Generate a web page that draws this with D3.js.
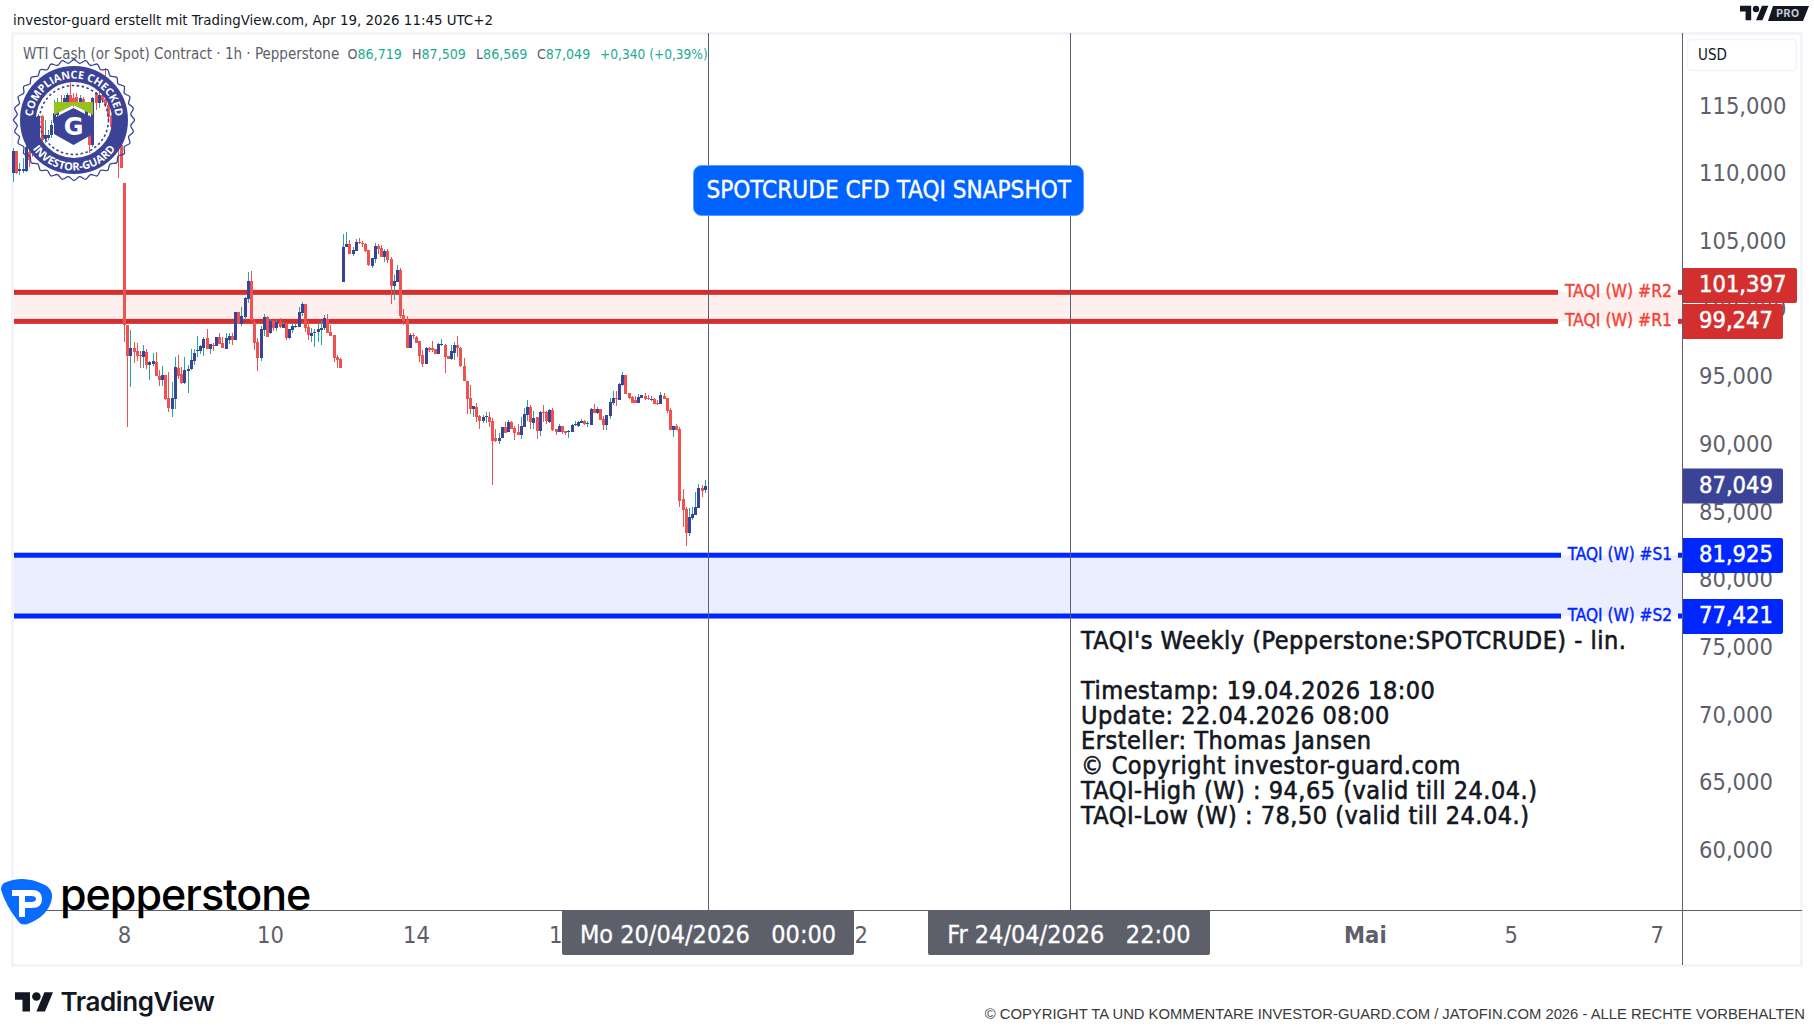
<!DOCTYPE html>
<html><head><meta charset="utf-8">
<script src="https://cdn.jsdelivr.net/npm/d3@7"></script>
<style>
html,body{margin:0;padding:0;background:#fff;overflow:hidden}
svg{display:block}
text{font-family:'DejaVu Sans Condensed','DejaVu Sans',sans-serif;font-stretch:condensed}
</style></head><body>
<svg id="c" width="1814" height="1035"></svg>
<script>
const opens=[110.21,111.86,110.38,110.38,110.40,111.81,112.68,112.68,112.92,114.46,112.78,112.85,113.05,113.91,114.53,115.52,115.39,115.52,116.01,115.76,115.89,115.39,115.69,113.91,114.41,112.31,116.14,115.39,116.01,115.69,115.27,114.46,113.71,112.97,112.31,
109.49,98.97,96.68,97.27,97.05,96.75,96.60,96.97,96.01,96.08,96.23,95.19,94.90,95.27,93.57,92.75,93.49,95.79,95.34,94.68,95.57,95.71,96.31,97.05,97.05,97.27,98.01,97.19,97.49,97.42,98.08,97.64,97.19,97.86,98.16,97.86,99.94,99.05,99.56,100.90,102.23,99.19,97.71,96.53,98.60,99.56,98.38,99.27,98.75,99.19,98.75,99.05,98.01,98.60,98.82,98.82,99.86,100.53,98.82,98.16,98.38,98.45,98.60,98.75,99.42,98.45,98.23,96.60,96.45,
102.16,104.75,104.97,104.23,104.45,105.12,105.05,104.97,104.53,103.34,103.86,104.82,104.68,104.01,104.45,103.86,101.86,102.16,103.05,99.71,99.34,97.27,98.23,98.08,97.79,96.75,96.08,97.27,97.27,97.19,96.82,97.55,97.49,96.68,96.45,96.92,97.49,97.27,95.94,94.82,93.57,92.75,92.90,92.23,91.86,92.16,92.16,91.86,90.60,90.38,90.60,91.42,91.05,91.79,91.34,91.05,90.82,91.42,92.31,92.90,91.71,92.16,91.12,92.53,92.53,91.79,92.68,91.27,91.05,91.49,91.12,91.05,91.05,91.57,91.49,91.74,91.86,91.67,91.57,92.75,92.46,92.75,92.01,91.57,92.23,93.20,93.57,93.42,94.53,95.27,93.94,93.64,93.42,93.20,93.57,93.72,93.57,93.45,93.50,93.20,93.12,93.72,93.57,92.68,91.20,91.50,91.27,86.09,85.35,83.57,84.68,84.90,85.42,86.90,86.719];
const highs=[112.06,111.86,110.95,111.32,112.68,112.19,113.17,114.53,114.60,114.53,114.16,113.42,114.16,115.64,115.76,116.01,116.01,116.14,116.87,116.14,116.14,116.01,115.89,115.52,114.53,115.89,116.26,116.38,116.14,117.99,115.39,114.53,113.79,113.05,112.68,
109.49,98.97,98.60,97.71,97.64,97.05,97.47,97.19,96.31,96.90,96.97,95.64,95.94,95.27,95.49,94.75,96.60,96.75,95.86,96.60,96.01,97.19,97.19,98.16,97.49,98.08,98.68,97.57,97.64,98.08,98.38,98.08,98.38,98.38,98.38,99.94,99.94,100.31,101.05,102.90,102.97,99.42,98.01,98.90,99.79,99.64,99.42,99.34,99.42,99.49,99.19,99.12,98.68,99.12,99.05,100.31,100.68,100.53,99.27,98.75,98.68,99.05,99.27,99.71,99.79,98.97,98.23,96.75,96.53,
105.71,105.86,105.27,104.75,105.34,105.42,105.19,105.05,104.53,103.94,105.05,104.97,104.90,104.60,104.60,104.01,102.68,103.42,103.19,100.16,99.64,98.38,98.38,98.16,97.79,97.12,97.34,97.34,97.79,97.19,97.64,97.94,97.57,96.68,97.49,97.71,98.16,97.34,96.53,94.82,94.53,92.97,93.20,92.31,92.31,92.53,92.53,92.08,91.27,90.97,91.42,91.79,91.94,91.86,91.49,91.64,92.16,92.82,93.42,93.05,92.60,92.16,92.60,93.05,92.60,92.75,92.82,91.27,91.64,91.49,91.12,91.19,91.64,91.86,91.86,92.01,91.94,91.86,92.82,93.12,92.90,92.75,92.23,92.31,93.57,94.09,94.09,94.68,95.50,95.27,93.94,93.72,93.72,93.87,93.79,93.94,93.79,93.72,93.57,93.42,94.01,93.94,93.57,92.83,91.50,91.65,91.42,86.83,85.50,85.42,85.50,86.61,87.20,87.13,87.509];
const lows=[109.59,110.13,110.09,110.21,110.33,110.70,111.44,112.43,112.68,111.94,112.43,112.68,112.80,113.66,114.28,114.90,115.15,115.27,115.39,115.15,115.39,115.15,114.90,113.66,111.69,112.19,114.90,115.02,115.39,115.15,114.16,113.54,112.80,109.84,110.63,
97.71,91.44,94.40,96.13,96.31,95.79,95.79,95.71,94.90,95.94,95.19,94.45,94.45,93.42,92.53,92.16,92.75,94.95,94.60,94.60,93.94,95.64,96.01,96.60,96.82,96.68,97.19,96.82,97.05,97.42,97.57,97.27,97.19,97.57,97.49,97.86,99.05,98.90,99.34,100.60,99.19,97.12,95.57,96.31,98.16,98.08,98.31,98.53,98.53,98.75,98.75,97.86,97.94,98.38,98.75,98.82,99.64,98.45,97.86,97.71,97.34,97.71,97.49,98.60,98.38,98.16,96.23,95.79,95.79,
102.16,104.75,104.23,104.08,104.45,104.97,104.75,104.38,103.34,103.19,103.56,104.23,104.01,103.64,103.56,100.53,100.82,102.16,99.49,98.97,97.27,97.27,97.94,97.64,96.23,95.86,96.08,96.97,96.97,96.82,96.82,97.42,95.41,96.45,96.38,96.38,96.60,95.86,94.82,92.38,92.38,92.16,91.79,91.27,91.71,91.71,91.42,87.12,90.31,90.16,90.60,90.97,91.05,91.27,90.45,90.82,90.53,91.42,91.86,91.27,91.27,90.53,90.75,91.79,91.64,91.71,91.12,90.82,91.05,90.90,90.82,90.60,91.05,91.49,91.42,91.74,91.57,91.42,91.57,92.46,92.38,91.94,91.20,91.20,92.01,93.05,92.97,93.42,94.46,93.87,93.50,93.20,93.20,93.20,93.57,93.42,93.42,93.35,93.12,93.05,93.12,93.50,92.46,91.20,90.68,91.20,85.50,84.02,82.61,83.35,84.53,84.90,85.42,86.24,86.569];
const closes=[111.86,110.21,110.50,110.50,112.19,111.20,111.69,114.41,114.46,112.68,113.05,113.05,113.79,114.65,115.39,115.15,115.76,116.01,115.52,115.39,115.52,115.76,115.15,115.39,112.31,115.76,115.39,116.01,115.64,115.27,114.41,113.67,112.92,112.31,110.63,
98.97,96.68,97.27,96.97,96.68,96.68,97.05,96.01,96.23,96.31,95.19,94.90,95.27,93.49,92.82,93.57,95.86,95.19,94.68,95.64,95.71,96.38,96.90,97.12,97.42,97.94,97.19,97.57,97.42,98.08,97.57,97.27,98.01,98.16,97.86,99.94,99.05,99.64,100.97,102.23,99.34,97.64,96.53,98.68,99.56,98.08,99.27,98.75,99.19,98.82,99.05,98.01,98.68,98.90,98.90,99.94,100.53,98.75,98.23,98.38,98.45,98.68,98.75,99.49,98.38,98.16,96.53,96.38,95.79,
104.75,104.97,104.23,104.53,105.12,105.05,105.02,104.45,103.42,103.94,104.82,104.60,104.01,104.45,103.79,101.86,102.23,103.05,99.64,99.27,97.27,98.23,98.18,97.64,96.68,96.08,97.27,97.12,97.12,96.82,97.57,97.60,96.60,96.45,97.05,97.49,97.27,95.94,94.82,93.49,92.75,92.97,92.16,91.86,92.16,92.21,91.79,90.38,90.38,90.60,91.42,90.97,91.79,91.27,90.97,90.82,91.49,92.38,92.90,91.79,92.08,91.12,92.53,92.48,91.86,92.68,91.19,91.05,91.49,91.05,90.97,91.12,91.57,91.64,91.79,91.86,91.64,91.74,92.75,92.46,92.75,91.94,91.57,92.31,93.27,93.57,93.49,94.60,95.27,93.87,93.57,93.20,93.20,93.64,93.79,93.50,93.52,93.50,93.12,93.12,93.79,93.50,92.61,91.20,91.50,91.20,85.94,85.27,83.57,84.76,84.98,85.50,86.90,86.68,87.049];

const priceTicks=[115,110,105,100,95,90,85,80,75,70,65,60];
const timeBars=[35,81,127,173,265,426,472,518];
const timeLabels=["8","10","14","16","22","Mai","5","7"];
const timeBold=[false,false,false,false,false,true,false,false];
const markerBars=[219,333];
const markerLabels=["Mo 20/04/2026   00:00","Fr 24/04/2026   22:00"];
const levelValues=[101.397,99.247,81.925,77.421];
const levelValueLabels=["101,397","99,247","81,925","77,421"];
const levelNames=["TAQI (W) #R2","TAQI (W) #R1","TAQI (W) #S1","TAQI (W) #S2"];
const lastPrice=87.049, lastLabel="87,049";
const legendTitle="WTI Cash (or Spot) Contract · 1h · Pepperstone";
const legendKeys=["O","H","L","C",""];
const legendVals=["86,719","87,509","86,569","87,049","+0,340 (+0,39%)"];
const infoLines=["TAQI's Weekly (Pepperstone:SPOTCRUDE) - lin.","","Timestamp: 19.04.2026 18:00","Update: 22.04.2026 08:00","Ersteller: Thomas Jansen","© Copyright investor-guard.com","TAQI-High (W) : 94,65 (valid till 24.04.)","TAQI-Low (W) : 78,50 (valid till 24.04.)"];

const RED="#f05252",BLUE="#3a4396",TEAL="#26a69a",GREY="#5d606b",LRED="#d32f2f",LBLUE="#0026ff";
const svg=d3.select("#c");
const plotL=13,plotR=1802,plotT=33,plotB=911,axisX=1683,frameB=965;
const x=d3.scaleLinear().domain([0,218]).range([13.5,705.3]);
const y=d3.scaleLinear().domain([60,115]).range([851.2,108.7]);
const yTick=d3.scaleLinear().domain([60,115]).range([850,105.7]);
const semi=(s,c,w)=>s.attr("stroke",c).attr("stroke-width",w).attr("paint-order","stroke");
const plain=(s,f)=>s.style("font-family",f).style("font-stretch","normal");

// frame
svg.append("rect").attr("x",12.5).attr("y",33.5).attr("width",1789).attr("height",932).attr("fill","#fff").attr("stroke","#f2f4f9").attr("stroke-width",3);

// bands + levels
const bands=[[0,1,"#fdf0ef"],[2,3,"#ebeefc"]];
svg.selectAll(".band").data(bands).join("rect").attr("x",plotL+1).attr("width",axisX-plotL-1)
 .attr("y",d=>y(levelValues[d[0]])).attr("height",d=>y(levelValues[d[1]])-y(levelValues[d[0]])).attr("fill",d=>d[2]);
const lvCol=i=>i<2?LRED:LBLUE;
const lvEnd=i=>i<2?1558:1561;
levelValues.forEach((v,i)=>{
 svg.append("rect").attr("x",plotL+1).attr("width",lvEnd(i)-plotL-1).attr("y",y(v)-2.5).attr("height",5).attr("fill",lvCol(i));
 svg.append("rect").attr("x",1678).attr("width",5).attr("y",y(v)-2.5).attr("height",5).attr("fill",lvCol(i));
 const c=i<2?"#f44336":LBLUE;
 svg.append("text").attr("x",1672).attr("y",y(v)-1).attr("dominant-baseline","central").attr("text-anchor","end")
  .attr("font-size",i<2?17.4:17.1).attr("fill",c).call(semi,c,0.4).text(levelNames[i]);
});

// marker lines
markerBars.forEach(b=>svg.append("line").attr("x1",Math.round(x(b))+0.5).attr("x2",Math.round(x(b))+0.5).attr("y1",plotT).attr("y2",plotB).attr("stroke",GREY).attr("stroke-width",1).attr("shape-rendering","crispEdges"));

// candles
const idx=d3.range(opens.length);
const g=svg.append("g").attr("shape-rendering","crispEdges");
g.selectAll(".w").data(idx).join("line").attr("x1",i=>x(i)).attr("x2",i=>x(i))
 .attr("y1",i=>y(highs[i])).attr("y2",i=>y(lows[i])).attr("stroke-width",1)
 .attr("stroke",i=>closes[i]>=opens[i]?TEAL:RED);
g.selectAll(".b").data(idx).join("rect").attr("x",i=>x(i)-1.5).attr("width",3)
 .attr("y",i=>y(Math.max(opens[i],closes[i]))).attr("height",i=>Math.max(1,Math.abs(y(opens[i])-y(closes[i]))))
 .attr("fill",i=>closes[i]>=opens[i]?BLUE:RED);

// axes
svg.append("line").attr("x1",plotL).attr("x2",plotR).attr("y1",plotB-0.5).attr("y2",plotB-0.5).attr("stroke",GREY).attr("stroke-width",1).attr("shape-rendering","crispEdges");
svg.append("line").attr("x1",axisX-0.5).attr("x2",axisX-0.5).attr("y1",plotT).attr("y2",frameB).attr("stroke",GREY).attr("stroke-width",1).attr("shape-rendering","crispEdges");

svg.selectAll(".pt").data(priceTicks).join("text").attr("x",1699).attr("y",d=>yTick(d)).attr("dominant-baseline","central")
 .attr("font-size",23.5).attr("fill",GREY).text(d=>d+",000");
svg.selectAll(".tt").data(timeBars).join("text").attr("x",d=>x(d)).attr("y",935).attr("dominant-baseline","central").attr("text-anchor","middle")
 .attr("font-size",23.5).attr("fill",GREY).attr("font-weight",(d,i)=>timeBold[i]?700:400).text((d,i)=>timeLabels[i]);

// USD box
svg.append("rect").attr("x",1687.5).attr("y",39.5).attr("width",109).attr("height",31).attr("rx",4).attr("fill","#fff").attr("stroke","#f0f3fa").attr("stroke-width",1.5);
svg.append("text").attr("x",1698).attr("y",55).attr("dominant-baseline","central").attr("font-size",15).attr("fill","#131722").text("USD");

// price labels
const boxes=[[0,268,1797,LRED],[1,304,1783,LRED],[2,538,1783,LBLUE],[3,599,1783,LBLUE]];
boxes.forEach(b=>{
 svg.append("path").attr("d",`M${axisX} ${b[1]}H${b[2]-2}q2 0 2 2V${b[1]+33}q0 2 -2 2H${axisX}Z`).attr("fill",b[3]);
 svg.append("text").attr("x",1699).attr("y",b[1]+16).attr("dominant-baseline","central").attr("font-size",23.5).attr("fill","#fff").call(semi,"#fff",0.5).text(levelValueLabels[b[0]]);
});
const ly=y(lastPrice);
svg.append("path").attr("d",`M${axisX} ${ly-17.5}H1781q2 0 2 2V${ly+15.5}q0 2 -2 2H${axisX}Z`).attr("fill",BLUE);
svg.append("text").attr("x",1699).attr("y",ly-1.5).attr("dominant-baseline","central").attr("font-size",23.5).attr("fill","#fff").call(semi,"#fff",0.5).text(lastLabel);

// time markers
const mBox=[[562,854],[928,1210]];
markerLabels.forEach((t,i)=>{
 svg.append("path").attr("d",`M${mBox[i][0]} 910H${mBox[i][1]}V953q0 2 -2 2H${mBox[i][0]+2}q-2 0 -2 -2Z`).attr("fill",GREY);
 svg.append("text").attr("x",(mBox[i][0]+mBox[i][1])/2).attr("y",934).attr("dominant-baseline","central").attr("text-anchor","middle")
  .attr("font-size",25).attr("fill","#fff").call(semi,"#fff",0.3).style("white-space","pre").text(t);
});

// header + legend
svg.append("text").attr("x",13).attr("y",20).attr("dominant-baseline","central").attr("font-size",14.9).attr("fill","#131722").text("investor-guard erstellt mit TradingView.com, Apr 19, 2026 11:45 UTC+2");
svg.append("text").attr("x",23).attr("y",54).attr("dominant-baseline","central").attr("font-size",15).attr("fill",GREY).text(legendTitle);
const lgX=[347.5,412,476,537,600];
legendKeys.forEach((k,i)=>{
 const t=svg.append("text").attr("x",lgX[i]).attr("y",54).attr("dominant-baseline","central").attr("font-size",i<4?14.1:13.6);
 t.append("tspan").attr("fill",GREY).text(k);
 t.append("tspan").attr("fill","#22ab94").text(legendVals[i]);
});

// title pill
svg.append("rect").attr("x",693.5).attr("y",165.5).attr("width",390).attr("height",50).attr("rx",8).attr("fill","#0062ff").attr("stroke","#5b9bff").attr("stroke-width",1);
svg.append("text").attr("x",888.7).attr("y",189.5).attr("dominant-baseline","central").attr("text-anchor","middle").attr("font-size",24.1).attr("fill","#fff").call(semi,"#fff",0.4).text("SPOTCRUDE CFD TAQI SNAPSHOT");

// info block
const infoY=[640,0,690.7,715.7,740.7,765.7,790.7,815.7];
infoLines.forEach((t,i)=>{ if(t) svg.append("text").attr("x",1081).attr("y",infoY[i]).attr("dominant-baseline","central").attr("font-size",25).attr("letter-spacing",0.5).attr("fill","#131722").call(semi,"#131722",0.6).text(t);});

// compliance seal
const seal=svg.append("g").attr("transform","translate(74,120)");
const scallop=d3.lineRadial().curve(d3.curveCardinalClosed).angle(d=>d.a).radius(d=>d.r);
seal.append("path").attr("d",scallop(d3.range(64).map(i=>({a:i/64*2*Math.PI,r:i%2?57:60.5})))).attr("fill","none").attr("stroke",BLUE).attr("stroke-width",1.3);
seal.append("circle").attr("r",46).attr("fill","none").attr("stroke",BLUE).attr("stroke-width",16);
seal.append("circle").attr("r",34.5).attr("fill","none").attr("stroke",BLUE).attr("stroke-width",1.6).attr("stroke-dasharray","2.5 2.5");
const defs=svg.append("defs");
defs.append("path").attr("id","arcT").attr("d","M-41.5 0A41.5 41.5 0 0 1 41.5 0");
defs.append("path").attr("id","arcB").attr("d","M-50.5 0A50.5 50.5 0 0 0 50.5 0");
const sealTxt=(id,txt,fs)=>seal.append("text").attr("font-size",fs).attr("font-weight",700).attr("fill","#fff").attr("text-anchor","middle").call(plain,"'Open Sans'")
 .append("textPath").attr("href","#"+id).attr("startOffset","50%").text(txt);
sealTxt("arcT","COMPLIANCE CHECKED",10.8);
sealTxt("arcB","INVESTOR-GUARD",11);
seal.append("path").attr("d","M-20 -18L-20 -5L-0.5 -15L19 -5L19 -18Z").attr("fill","#97c11f");
seal.append("path").attr("d","M-20 -2L-0.5 -12L19 -2V14L-0.5 25L-20 14Z").attr("fill",BLUE);
seal.append("text").attr("x",-0.5).attr("y",7).attr("text-anchor","middle").attr("dominant-baseline","central").attr("font-size",24).attr("font-weight",700).attr("fill","#fff").call(plain,"'DejaVu Sans'").text("G");

// pepperstone
svg.append("path").attr("d","M4 883Q24 874 45 885Q53 889 52 898Q49 915 30 923Q22 927 18 921Q6 906 1 890Q1 885 4 883Z").attr("fill","#0a6cff");
svg.append("path").attr("d","M12 890H32Q42 890 42 899Q42 908 32 908H25V917H19V896H12Z M25 896V902H31Q36 902 36 899Q36 896 31 896Z").attr("fill","#fff").attr("fill-rule","evenodd");
svg.append("text").attr("x",60).attr("y",910).attr("font-size",43).attr("font-weight",500).attr("letter-spacing",-1).attr("fill","#000").call(plain,"Inter").text("pepperstone");

// TradingView logo + pro badge
const tvMark="M14 22H7V11H0V4h14v18zM28 22h-8l7.5-18h8L28 22z";
const tv=svg.append("g").attr("transform","translate(15,988) scale(1.07)").attr("fill","#131722");
tv.append("path").attr("d",tvMark); tv.append("circle").attr("cx",20).attr("cy",8).attr("r",4);
svg.append("text").attr("x",60.5).attr("y",1011).attr("font-size",26).attr("font-weight",600).attr("letter-spacing",-0.4).attr("fill","#131722").call(plain,"Inter").text("TradingView");
const tv2=svg.append("g").attr("transform","translate(1740,2.6) scale(0.8)").attr("fill","#131722");
tv2.append("path").attr("d",tvMark); tv2.append("circle").attr("cx",20).attr("cy",8).attr("r",4);
svg.append("path").attr("d","M1773 6H1809L1803 21H1768Z").attr("fill","#131722");
svg.append("text").attr("x",1788).attr("y",13.7).attr("dominant-baseline","central").attr("text-anchor","middle").attr("font-size",10.5).attr("font-weight",700).attr("letter-spacing",0.6).attr("fill","#c8ccd6").call(plain,"Inter").text("PRO");

// footer
svg.append("text").attr("x",1805).attr("y",1014).attr("dominant-baseline","central").attr("text-anchor","end").attr("font-size",14.8).attr("fill","#3a3a3a").call(plain,"'Liberation Sans'").text("© COPYRIGHT TA UND KOMMENTARE INVESTOR-GUARD.COM / JATOFIN.COM 2026 - ALLE RECHTE VORBEHALTEN");
</script></body></html>
